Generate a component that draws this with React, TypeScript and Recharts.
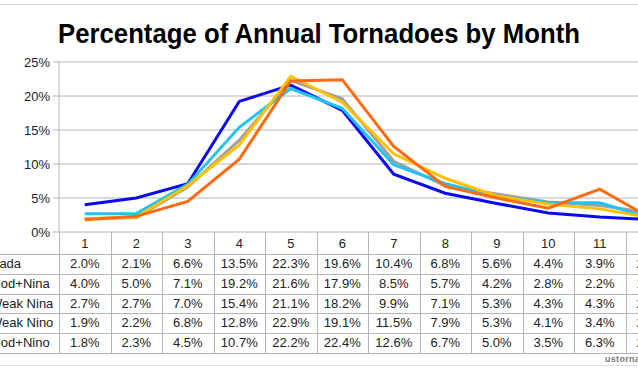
import React from "react";
import { LineChart, Line, XAxis, YAxis, CartesianGrid } from "recharts";

const months = [1, 2, 3, 4, 5, 6, 7, 8, 9, 10, 11, 12];
const seriesNames = ["Nada", "Mod+Nina", "Weak Nina", "Weak Nino", "Mod+Nino"];
const nada = [2.0, 2.1, 6.6, 13.5, 22.3, 19.6, 10.4, 6.8, 5.6, 4.4, 3.9, 2.8];
const modNina = [4.0, 5.0, 7.1, 19.2, 21.6, 17.9, 8.5, 5.7, 4.2, 2.8, 2.2, 1.8];
const weakNina = [2.7, 2.7, 7.0, 15.4, 21.1, 18.2, 9.9, 7.1, 5.3, 4.3, 4.3, 2.0];
const weakNino = [1.9, 2.2, 6.8, 12.8, 22.9, 19.1, 11.5, 7.9, 5.3, 4.1, 3.4, 2.1];
const modNino = [1.8, 2.3, 4.5, 10.7, 22.2, 22.4, 12.6, 6.7, 5.0, 3.5, 6.3, 2.0];
const yTicks = [0, 5, 10, 15, 20, 25];

const seriesValues = [nada, modNina, weakNina, weakNino, modNino];
const colors = ["#a0a0a0", "#0a0af0", "#20c4f0", "#ffc000", "#ff6a10"];
const keys = ["nada", "modNina", "weakNina", "weakNino", "modNino"];

const data = months.map((m, i) => {
  const row: Record<string, number> = { month: m };
  keys.forEach((k, s) => (row[k] = seriesValues[s][i]));
  return row;
});

const FONT = '"Liberation Sans", Arial, sans-serif';
const PLOT_LEFT = 59;
const PLOT_TOP = 62;
const PLOT_BOTTOM = 232;
const COL = 51.5;
const PLOT_WIDTH = COL * 12;
const CHART_W = 700;
const ROW_TOPS = [254, 273.8, 293.6, 313.4, 333.2];
const ROW_H = 19.8;
const GRID = "#b4b4b4";

function DataTable() {
  const tableBottom = ROW_TOPS[4] + ROW_H;
  const lines: React.ReactNode[] = [];
  for (let k = 0; k <= 12; k++) {
    lines.push(
      <div
        key={"v" + k}
        style={{
          position: "absolute",
          left: PLOT_LEFT + k * COL,
          top: PLOT_BOTTOM,
          width: 1,
          height: tableBottom - PLOT_BOTTOM,
          background: GRID,
        }}
      />
    );
  }
  [...ROW_TOPS, tableBottom].forEach((y, i) =>
    lines.push(
      <div
        key={"h" + i}
        style={{ position: "absolute", left: 0, top: y, width: 700, height: 1, background: GRID }}
      />
    )
  );
  return (
    <>
      {lines}
      {seriesNames.map((name, r) => (
        <React.Fragment key={name}>
          <div
            style={{
              position: "absolute",
              left: -10,
              top: ROW_TOPS[r],
              height: ROW_H,
              lineHeight: ROW_H + "px",
              fontSize: 13,
              color: "#222",
              whiteSpace: "nowrap",
            }}
          >
            {name}
          </div>
          {seriesValues[r].map((v, c) => (
            <div
              key={c}
              style={{
                position: "absolute",
                left: PLOT_LEFT + c * COL,
                width: COL,
                top: ROW_TOPS[r],
                height: ROW_H,
                lineHeight: ROW_H + "px",
                fontSize: 13,
                color: "#222",
                textAlign: "center",
              }}
            >
              {v.toFixed(1)}%
            </div>
          ))}
        </React.Fragment>
      ))}
    </>
  );
}

export default function App() {
  return (
    <div
      style={{
        position: "absolute",
        left: 0,
        top: 0,
        width: 638,
        height: 368,
        overflow: "hidden",
        background: "#fff",
        fontFamily: FONT,
      }}
    >
      <div style={{ position: "absolute", left: 0, top: 4, width: 638, height: 1, background: "#d8d8d8" }} />
      <svg style={{ position: "absolute", left: 0, top: 0 }} width={638} height={60}>
        <text
          x={319}
          y={43}
          textAnchor="middle"
          fontFamily={FONT}
          fontWeight="bold"
          fontSize={28}
          fill="#000"
          textLength={522}
          lengthAdjust="spacingAndGlyphs"
        >
          Percentage of Annual Tornadoes by Month
        </text>
      </svg>
      <div style={{ position: "absolute", left: 0, top: 0 }}>
        <LineChart
          width={CHART_W}
          height={254}
          data={data}
          margin={{ top: PLOT_TOP, right: CHART_W - PLOT_LEFT - PLOT_WIDTH, left: 0, bottom: 0 }}
        >
          <CartesianGrid vertical={false} stroke={GRID} />
          <XAxis
            dataKey="month"
            type="number"
            domain={[0.5, 12.5]}
            ticks={months}
            height={22}
            axisLine={false}
            tickLine={false}
            tickSize={4}
            tickMargin={3}
            tick={{ fill: "#222", fontSize: 13, fontFamily: FONT }}
            interval={0}
          />
          <YAxis
            width={PLOT_LEFT}
            domain={[0, 25]}
            ticks={yTicks}
            tickFormatter={(v: number) => `${v}%`}
            axisLine={{ stroke: GRID }}
            tickLine={{ stroke: GRID }}
            tickSize={6}
            tickMargin={3}
            tick={{ fill: "#222", fontSize: 13, fontFamily: FONT }}
          />
          {keys.map((k, s) => (
            <Line
              key={k}
              dataKey={k}
              type="linear"
              stroke={colors[s]}
              strokeWidth={3}
              dot={false}
              isAnimationActive={false}
            />
          ))}
        </LineChart>
      </div>
      <DataTable />
      <div
        style={{
          position: "absolute",
          left: 605,
          top: 354,
          fontSize: 9,
          color: "#777",
          fontWeight: "bold",
          letterSpacing: 0.3,
          whiteSpace: "nowrap",
        }}
      >
        ustornadoes.com
      </div>
      <div style={{ position: "absolute", left: 0, top: 365, width: 638, height: 1, background: "#e0e0e0" }} />
    </div>
  );
}
